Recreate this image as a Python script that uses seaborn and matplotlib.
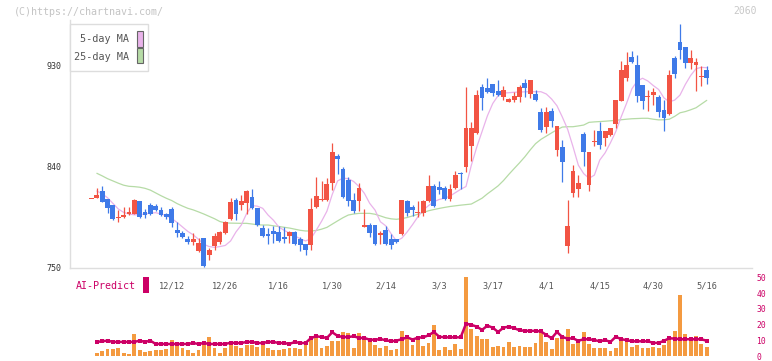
import numpy as np
import pandas as pd
import matplotlib
matplotlib.use("Agg")
import matplotlib.pyplot as plt
import seaborn as sns
from matplotlib.patches import Rectangle

sns.set_theme(style="white")
plt.rcParams['font.family'] = ['DejaVu Sans Mono', 'DejaVu Sans']

nan = float('nan')

# ---------------- data ----------------
opens = [810.5, 812, 818, 810.9, 805.5, 794, 794.5, 797.7, 797.5, 809,
         799, 805.5, 805, 801.3, 797.5, 802, 783.3, 780.6, 775, 772.5,
         764.5, 776, 761, 769, 772.5, 780.6, 793, 810, 805.5, 807.3,
         812.5, 803, 785, 779.5, 782.4, 781.5, 777, 778, 781.5, 775.5,
         771, 770, 804, 810, 810, 825, 849.5, 837.6, 828, 810,
         809, 786, 787.5, 787.5, 778.5, 783, 775.3, 775.3, 779.7, 809,
         803.5, 798.4, 798.4, 809, 822.5, 821.6, 820.7, 810.8, 820.7, 834.5,
         839.4, 858.1, 869.7, 910.8, 909.8, 913.5, 907.2, 901.8, 897.3, 899,
         901.8, 914.4, 904.5, 904.5, 888.3, 875, 889.2, 854.5, 857.2, 769,
         816.5, 819.8, 868.8, 823.3, 861.5, 871.3, 865.3, 867.9, 877.7, 898.2,
         918.6, 937.4, 930, 912.6, 901.8, 903.5, 901.8, 890, 886.6, 936.5,
         950.8, 946.3, 932, 930.3, 919.5, 925.8]
highs = [811, 820.4, 822.4, 811, 805.5, 801, 803.7, 804, 811, 809,
         801.7, 807, 806.5, 804, 798, 803.7, 790.5, 782, 778, 780.6,
         776, 776.5, 767.5, 780.6, 782, 791.3, 811.7, 811.7, 814.5, 819,
         820, 803, 787.5, 785, 786.7, 786.7, 786, 782, 782, 777,
         771, 811.7, 830.6, 826.7, 829.6, 860.8, 851, 839.4, 830.6, 816.5,
         825, 802.2, 789.5, 787.5, 782.5, 786.5, 779.6, 775.5, 810, 810,
         805.5, 809, 810, 832.4, 824.3, 826.8, 822.5, 824.3, 835.8, 835,
         910.7, 879.5, 908, 913.5, 918.7, 913.5, 917, 911.7, 900.8, 906,
         912.6, 917.9, 917, 908, 892, 892.8, 892, 876, 863.5, 810,
         841.2, 832.3, 870.6, 853, 872.2, 879.4, 871.3, 874, 899.1, 933.8,
         941.8, 942.7, 939, 912.6, 908, 909.8, 903.5, 899, 925.8, 938.3,
         966.8, 946.3, 943.6, 936.5, 929.3, 929.4]
lows = [810.5, 812, 808, 798.7, 792, 790, 794, 797, 797.5, 794,
        794, 797, 800, 796, 793, 786, 777, 776, 771, 770,
        764, 750.5, 756.6, 765.5, 771, 780, 792, 792, 801, 797.5,
        802, 787, 777, 771, 771.4, 773, 772, 772, 770, 764.5,
        761, 765.5, 803, 809.5, 809.5, 819, 833, 811.7, 805, 798.5,
        800.3, 786, 777, 770, 771, 770, 766, 772, 779, 795.5,
        796, 795, 795.5, 808, 804, 815.5, 810, 809, 820, 820,
        834.7, 844.8, 869, 890, 905, 902.6, 902.6, 899, 897, 897.3,
        897.3, 901.8, 900.8, 898, 871, 869.7, 875, 849.2, 826, 763,
        812.6, 812.6, 840.2, 818, 858, 855.3, 858, 867, 874, 898,
        916, 932, 897.3, 891, 889.2, 894.6, 883.8, 871.3, 886, 918.6,
        935.6, 927.6, 926.7, 907, 911.6, 913.3]
closes = [811, 814.4, 808.5, 803.1, 793, 795, 796.5, 799.5, 810, 795,
          796.5, 797.5, 801.3, 796.5, 794.7, 789.5, 780.6, 777, 772.5, 775,
          771.6, 751, 765, 778, 781.5, 790.4, 808.2, 797.5, 809, 818,
          803, 787.8, 778, 778, 780, 773.5, 775, 781.5, 771, 770,
          765.5, 802, 813.7, 810.8, 824.2, 852.7, 846.8, 812.6, 809, 800.3,
          820.7, 788, 780.6, 770.6, 781, 770.6, 770, 772.6, 810, 798.4,
          801, 799, 809, 822.5, 805, 819, 810.8, 819.8, 832.4, 833,
          874.1, 874.1, 903.5, 900.8, 906.3, 905.4, 903.6, 908, 900, 902.6,
          910.8, 909.8, 917, 899, 872.2, 888.3, 880.3, 875.9, 843.8, 787,
          835.9, 825.2, 852.7, 852.7, 862.8, 858.9, 871.3, 874, 899.1, 925.8,
          930, 933, 902.6, 898.2, 902.6, 906.2, 888.3, 883, 921.4, 922.3,
          943.6, 932, 936.5, 933, 920.3, 918.6]
ma5 = [nan, 818, 815.5, 812, 807, 802, 799, 797.5, 796.8, 797,
       797.5, 798.3, 798.7, 797.5, 796, 793.5, 790, 786, 782, 779,
       775, 770.5, 768.5, 767.8, 768.5, 769.5, 773.5, 781.5, 787.7, 798,
       805, 804.5, 802.6, 796.6, 792, 786, 783, 780.5, 778, 775.5,
       773.5, 775.5, 783, 791, 800, 815, 827, 829.5, 829, 826.5,
       822, 816, 807, 801, 790.6, 787, 780, 773.5, 776, 781.5,
       788, 795, 801, 805, 808.5, 810.5, 811.5, 813.5, 816.5, 819.5,
       822, 841, 857, 871, 885, 896, 903, 905.3, 905.6, 906,
       906.2, 906.4, 906.5, 906.5, 906.5, 904.5, 900, 894, 884, 873,
       857.5, 841, 833.5, 829.3, 832.2, 845.6, 852, 861, 871, 884,
       896, 909, 916, 918.5, 916, 912, 908.5, 901, 897.5, 899,
       903.5, 913, 921, 927, 928.2, 927.9]
ma25 = [nan, 833.8, 831.5, 829, 827, 825, 823.2, 822.2, 821.9, 821.4,
        820.4, 818.8, 816.3, 813.8, 811.5, 809.5, 806.8, 804.6, 802.6, 801.2,
        799.4, 797.5, 795.4, 793.3, 790.8, 789.6, 789.4, 789.3, 789.2, 789.2,
        788.6, 787.9, 787.7, 787.7, 787, 786.4, 785.7, 785, 784, 783,
        782.4, 782.4, 782.8, 784, 785.6, 788.5, 791.4, 794.2, 796.6, 797.5,
        798.1, 798.1, 798.1, 797.3, 795.8, 794.2, 793.2, 792.8, 793.4, 794.4,
        795.8, 797.3, 798.8, 800.4, 801.5, 802.5, 803.4, 804.2, 804.8, 805.4,
        805.9, 806.4, 809, 811.6, 815.5, 819, 822.6, 827.3, 832.8, 838,
        843.1, 848.5, 854.6, 860.2, 864, 866.9, 869.8, 872.6, 875, 875.3,
        875.3, 876, 876.8, 879.2, 879.6, 879.9, 880.2, 880.6, 881, 881.5,
        882, 882.4, 882.6, 882.8, 882.8, 882, 881.4, 881.5, 882, 884.5,
        887.7, 888.8, 890.4, 892.2, 895.5, 898.8]
volume = [nan, 2.2, 3.6, 4.9, 4.9, 5.3, 2.2, 1.6, 14.1, 4.3,
          2.8, 3.6, 4.3, 4.3, 4.9, 10.5, 7.0, 5.3, 4.3, 2.2,
          4.3, 9.9, 12.2, 5.3, 2.2, 5.3, 7.8, 6.4, 5.3, 7.0,
          7.0, 5.8, 7.4, 5.3, 4.3, 4.3, 4.9, 5.3, 5.3, 4.9,
          7.0, 10.5, 11.6, 5.3, 6.4, 9.9, 9.9, 15.4, 14.7, 5.3,
          14.7, 11.6, 9.1, 7.4, 5.3, 6.6, 3.9, 4.7, 16.2, 11.6,
          7.0, 11.6, 6.4, 8.5, 19.6, 4.3, 5.8, 4.3, 7.8, 4.9,
          49.9, 17.3, 13.1, 11.0, 11.0, 6.2, 6.6, 6.0, 9.1, 6.0,
          6.6, 6.0, 6.0, 8.5, 15.4, 9.1, 4.7, 11.6, 13.3, 17.3,
          7.8, 8.9, 15.4, 7.8, 5.3, 5.3, 5.3, 3.6, 5.3, 11.0,
          9.5, 6.0, 7.0, 5.3, 5.3, 5.8, 5.3, 7.0, 12.0, 16.2,
          38.8, 14.1, 11.0, 13.1, 8.0, 6.0]
ai_predict = [nan, 9.1, 9.5, 9.9, 9.1, 9.1, 9.1, 9.1, 9.1, 9.9,
              9.1, 9.9, 7.8, 7.8, 7.8, 7.8, 7.8, 7.8, 7.8, 8.4,
              7.8, 8.4, 7.8, 7.8, 7.8, 7.8, 8.6, 8.4, 8.4, 9.1,
              9.1, 8.4, 8.4, 9.1, 9.1, 8.4, 8.4, 7.8, 9.1, 8.4,
              8.4, 11.5, 12.7, 12.2, 11.6, 15.2, 12.9, 12.2, 12.2, 12.7,
              11.6, 11.6, 10.5, 10.5, 10.9, 10.2, 9.5, 9.9, 10.8, 12.0,
              10.6, 11.8, 12.0, 13.3, 15.4, 12.4, 12.0, 12.0, 12.0, 12.0,
              20.6, 19.9, 18.8, 16.7, 19.4, 18.1, 15.4, 18.1, 18.8, 17.8,
              16.5, 16.1, 16.1, 16.1, 15.7, 13.6, 11.4, 15.4, 12.2, 11.2,
              11.4, 9.8, 10.8, 10.8, 10.3, 9.5, 10.3, 9.1, 12.4, 10.8,
              10.3, 9.5, 9.5, 9.5, 9.5, 8.5, 8.5, 9.8, 11.4, 11.2,
              10.8, 10.8, 10.8, 10.8, 10.8, 9.8]
date_idx = [15, 25, 35, 45, 55, 65, 75, 85, 95, 105, 115]
date_labels = ["12/12", "12/26", "1/16", "1/30", "2/14", "3/3",
               "3/17", "4/1", "4/15", "4/30", "5/16"]
price_ticks = [750, 840, 930]
vol_ticks = [0, 10, 20, 30, 40, 50]

# ---------------- style ----------------
RED = '#f25444'
BLUE = '#3f7ae8'
ORANGE = '#f49a40'
MAG = '#cc0066'
PINK = '#e9b3ea'
GREEN = '#b6dba6'
AXC = '#dedede'

W, H = 772, 361
fig = plt.figure(figsize=(W / 100, H / 100), dpi=100)
fig.patch.set_facecolor('white')


def fx(px):
    return px / W


def fy(py):
    return 1 - py / H


X0, X1 = 70, 752
C0, STEP = 91.5, 5.35           # pixel of first candle, pixel step per candle


def px2i(px):
    return (np.asarray(px, dtype=float) - C0) / STEP


ax = fig.add_axes([fx(X0), fy(268), (X1 - X0) / W, (268 - 20) / H])
axv = fig.add_axes([fx(X0), fy(356.3), (X1 - X0) / W, (356.3 - 277.3) / H])
for a in (ax, axv):
    a.set_facecolor('none')
    a.set_xlim(px2i(X0), px2i(X1))

ax.set_ylim(749.4, 970.4)
axv.set_ylim(0, 50)

df = pd.DataFrame({'i': np.arange(len(opens)), 'open': opens, 'high': highs,
                   'low': lows, 'close': closes, 'ma5': ma5, 'ma25': ma25,
                   'vol': volume, 'ai': ai_predict})

# moving averages
sns.lineplot(data=df, x='i', y='ma25', ax=ax, color=GREEN, linewidth=0.9, zorder=2)
sns.lineplot(data=df, x='i', y='ma5', ax=ax, color=PINK, linewidth=0.9, zorder=2)

# candlesticks
o = df['open'].to_numpy(); c = df['close'].to_numpy()
up = c >= o
cols = np.where(up, RED, BLUE)
ax.vlines(df['i'], df['low'], df['high'], colors=cols, linewidth=0.9, zorder=3)
body_lo = np.minimum(o, c)
body_h = np.maximum(np.abs(c - o), 1.0)
ax.bar(df['i'], body_h, bottom=body_lo, width=0.9, color=cols, linewidth=0, zorder=4)

# volume + AI predict
axv.bar(df['i'], df['vol'], width=0.72, color=ORANGE, linewidth=0, zorder=2)
sns.lineplot(data=df, x='i', y='ai', ax=axv, color=MAG, linewidth=1.8,
             marker='s', markersize=2.4, markeredgewidth=0, zorder=3)

# axes styling
for a in (ax, axv):
    a.set_xlabel('')
    a.set_ylabel('')
    for s in a.spines.values():
        s.set_visible(False)
ax.spines['left'].set_visible(True)
ax.spines['bottom'].set_visible(True)
ax.spines['left'].set_color(AXC)
ax.spines['bottom'].set_color(AXC)
ax.spines['left'].set_linewidth(1.0)
ax.spines['bottom'].set_linewidth(1.0)

ax.set_yticks(price_ticks)
ax.set_yticklabels([str(t) for t in price_ticks])
ax.tick_params(axis='y', direction='inout', length=6.5, width=0.8, color=AXC,
               pad=3, labelsize=6, labelcolor='#333333')
ax.set_xticks(date_idx)
ax.set_xticklabels(date_labels)
ax.set_xticks(px2i(np.arange(X0, X1 + 1, 62)), minor=True)
ax.tick_params(axis='x', which='major', length=0, pad=9.5, labelsize=6.2,
               labelcolor='#555555')
ax.tick_params(axis='x', which='minor', direction='inout', length=4, width=0.8,
               color=AXC)

axv.set_xticks([])
axv.yaxis.tick_right()
axv.set_yticks(vol_ticks)
axv.set_yticklabels([str(t) for t in vol_ticks])
axv.tick_params(axis='y', length=0, pad=3, labelsize=5.8, labelcolor=MAG)

# texts and legend
fig.text(fx(14), fy(12), "(C)https://chartnavi.com/", fontsize=7.2,
         color='#c4c4c4', ha='left', va='center')
fig.text(fx(757), fy(11), "2060", fontsize=7, color='#c8c8c8', ha='right', va='center')

fig.add_artist(Rectangle((fx(70), fy(71)), (148 - 70) / W, (71 - 24) / H,
                         transform=fig.transFigure, facecolor='white',
                         edgecolor='#dddddd', linewidth=1.0, zorder=10))
fig.text(fx(129.5), fy(39), "5-day MA", fontsize=7.3, color='#555555',
         ha='right', va='center', zorder=11)
fig.text(fx(129.5), fy(56.5), "25-day MA", fontsize=7.3, color='#555555',
         ha='right', va='center', zorder=11)
fig.add_artist(Rectangle((fx(136.5), fy(46.5)), 6 / W, 15.5 / H,
                         transform=fig.transFigure, facecolor=PINK,
                         edgecolor='#666666', linewidth=0.8, zorder=11))
fig.add_artist(Rectangle((fx(136.5), fy(63.3)), 6 / W, 15 / H,
                         transform=fig.transFigure, facecolor=GREEN,
                         edgecolor='#666666', linewidth=0.8, zorder=11))

fig.text(fx(76), fy(286), "AI-Predict", fontsize=7.2, color=MAG,
         ha='left', va='center')
fig.add_artist(Rectangle((fx(142.5), fy(293)), 6.5 / W, 16 / H,
                         transform=fig.transFigure, facecolor=MAG,
                         edgecolor='none', zorder=11))

fig.savefig("out.png", dpi=100, facecolor='white')
